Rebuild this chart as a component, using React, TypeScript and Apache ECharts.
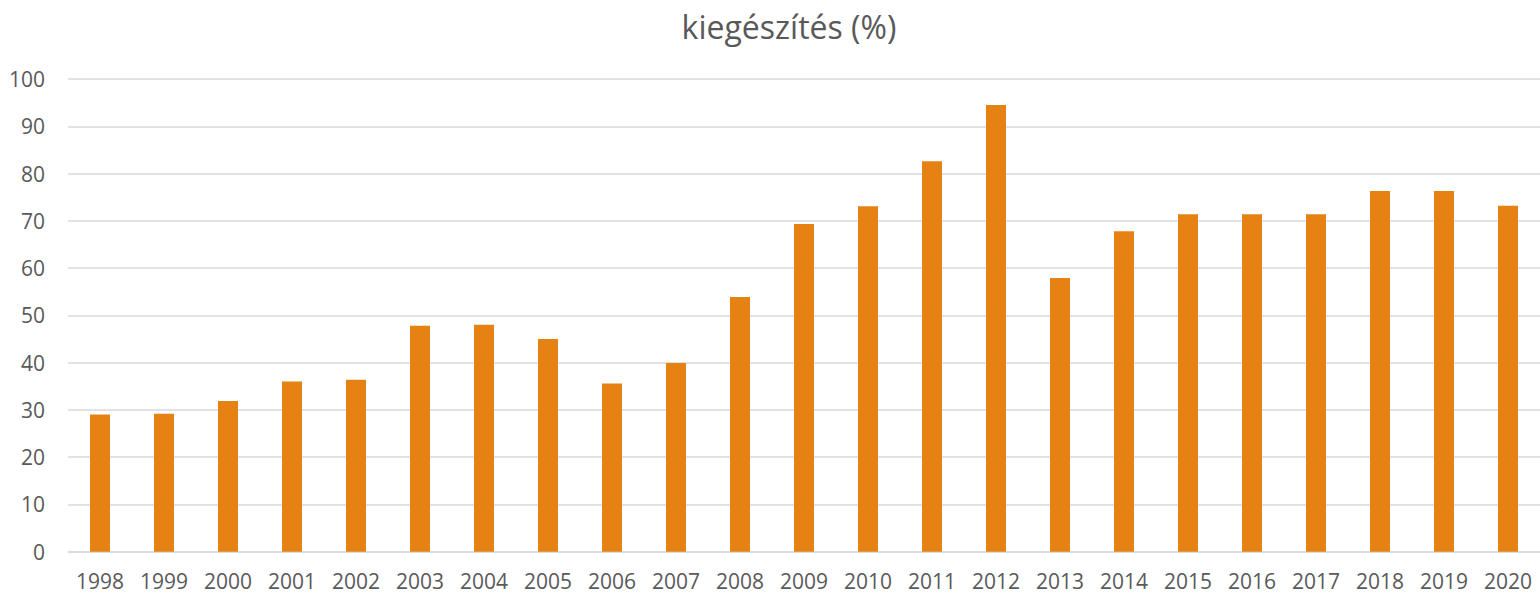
import React, { useEffect, useRef } from "react";
import * as echarts from "echarts";

const years = ["1998","1999","2000","2001","2002","2003","2004","2005","2006","2007","2008","2009","2010","2011","2012","2013","2014","2015","2016","2017","2018","2019","2020"];
const values = [29.0, 29.2, 31.9, 36.0, 36.4, 47.8, 48.0, 45.0, 35.6, 39.9, 53.9, 69.3, 73.1, 82.6, 94.5, 57.9, 67.8, 71.4, 71.4, 71.4, 76.3, 76.3, 73.2];
const titleText = "kiegészítés (%)";

export default function App() {
  const ref = useRef<HTMLDivElement>(null);
  useEffect(() => {
    const chart = echarts.init(ref.current!, null, { renderer: "svg" });
    chart.setOption({
      animation: false,
      title: {
        text: titleText,
        left: 784,
        top: 5,
        textAlign: "center",
        textStyle: { fontFamily: "Open Sans", fontSize: 32, fontWeight: "normal", color: "#595959" },
      },
      grid: { left: 68, top: 79, width: 1478, height: 472.7, containLabel: false },
      xAxis: {
        type: "category",
        data: years,
        axisLine: { lineStyle: { color: "#d9d9d9", width: 1.5 } },
        axisTick: { show: false },
        axisLabel: { fontFamily: "Open Sans", fontSize: 21, color: "#595959", margin: 19, interval: 0 },
      },
      yAxis: {
        type: "value",
        min: 0,
        max: 100,
        interval: 10,
        axisLine: { show: false },
        axisTick: { show: false },
        splitLine: { lineStyle: { color: "#d9d9d9", width: 1.5 } },
        axisLabel: { fontFamily: "Open Sans", fontSize: 21, color: "#595959", margin: 23 },
      },
      series: [
        {
          type: "bar",
          data: values,
          barWidth: 20,
          itemStyle: { color: "#E58214" },
        },
      ],
    });
    return () => chart.dispose();
  }, []);
  return <div ref={ref} style={{ position: "absolute", left: 0, top: 0, width: 1540, height: 594 }} />;
}
